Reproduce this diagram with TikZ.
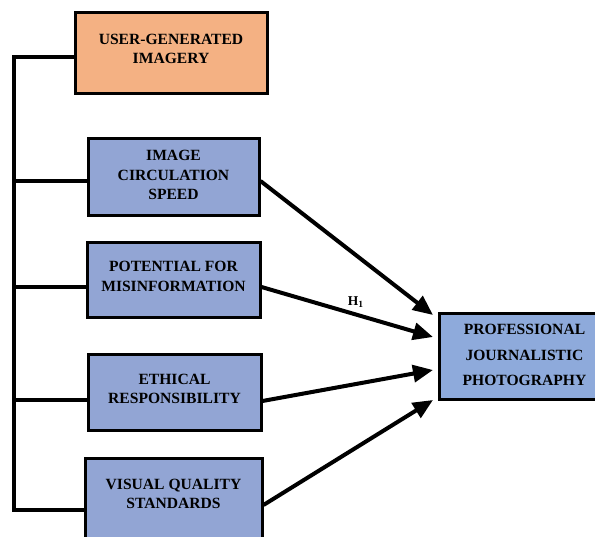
\documentclass[tikz,border=0pt]{standalone}
\usepackage{fontspec}
\setmainfont{Liberation Serif}
\usetikzlibrary{arrows.meta}
\definecolor{orangefill}{RGB}{244,177,131}
\definecolor{bluefill}{RGB}{146,165,212}
\definecolor{bluefillR}{RGB}{142,170,219}
\begin{document}
\begin{tikzpicture}[x=1pt,y=-1pt,
  boxbase/.style={draw=black, line width=3pt, align=center, inner sep=0pt,
    font=\bfseries\fontsize{15.6}{19.5}\selectfont},
  orangebox/.style={boxbase, fill=orangefill},
  bluebox/.style={boxbase, fill=bluefill},
  conn/.style={line width=4pt, line cap=rect},
  arr/.style={line width=4pt, -{Triangle[length=20pt,width=17pt]}}]
\useasboundingbox (0,0) rectangle (595,537);
\clip (0,0) rectangle (595,537);
% boxes
\node[orangebox, minimum width=192pt, minimum height=81pt] (ugi) at (171,53.5) {USER-GENERATED\\IMAGERY\\[-10pt]\mbox{}};
\node[bluebox, minimum width=171pt, minimum height=77pt] (ics) at (173.5,177.5) {IMAGE\\CIRCULATION\\SPEED\\[-15pt]\mbox{}};
\node[bluebox, minimum width=173pt, minimum height=75pt] (pfm) at (173.5,280.5) {POTENTIAL FOR\\MISINFORMATION\\[-11pt]\mbox{}};
\node[bluebox, minimum width=173pt, minimum height=76pt] (ers) at (174.5,393) {ETHICAL\\RESPONSIBILITY\\[-11pt]\mbox{}};
\node[bluebox, minimum width=177pt, minimum height=90pt, anchor=north] (vqs) at (173.5,457) {VISUAL QUALITY\\STANDARDS\\\mbox{}};
\node[boxbase, fill=bluefillR, minimum width=170pt, minimum height=86pt, anchor=west,
  font=\bfseries\fontsize{15.6}{25.5}\selectfont] (pjp) at (438,357) {PROFESSIONAL\\JOURNALISTIC\\PHOTOGRAPHY\\[-22pt]\mbox{}};
% left spine
\coordinate (s1) at (14,57);
\coordinate (s2) at (14,181);
\coordinate (s3) at (14,287);
\coordinate (s4) at (14,400);
\coordinate (s5) at (14,510);
\draw[conn] (ugi.west |- s1) -- (s1) -- (s5) -- (vqs.west |- s5);
\draw[conn] (s2) -- (ics.west |- s2);
\draw[conn] (s3) -- (pfm.west |- s3);
\draw[conn] (s4) -- (ers.west |- s4);
% arrows
\draw[arr] ([yshift=-3.5pt]ics.east) -- ([xshift=-5pt,yshift=42pt]pjp.west);
\draw[arr] ([yshift=-6.5pt]pfm.east) -- ([xshift=-5pt,yshift=20pt]pjp.west) node[pos=0.55, above=2pt, font=\bfseries\fontsize{13.5}{15}\selectfont] (h1) {H\textsubscript{1}};
\draw[arr] ([yshift=-8pt]ers.east) -- ([xshift=-5pt,yshift=-13pt]pjp.west);
\draw[arr] (vqs.east |- 0,505) -- ([xshift=-5pt,yshift=-43pt]pjp.west);
\end{tikzpicture}
\end{document}
